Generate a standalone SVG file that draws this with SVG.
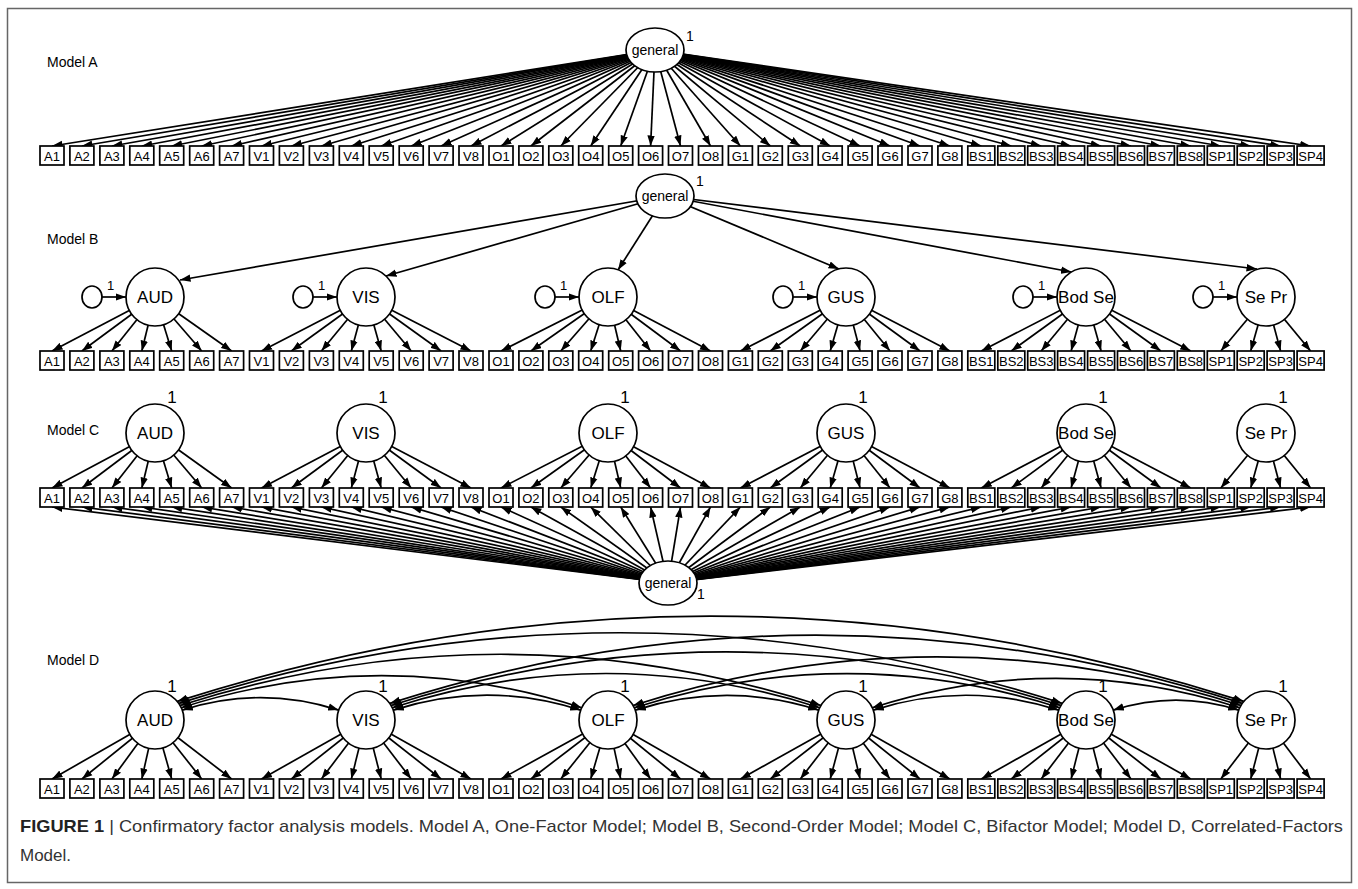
<svg xmlns="http://www.w3.org/2000/svg" width="1358" height="889" viewBox="0 0 1358 889">
<defs>
<marker id="ah" markerUnits="userSpaceOnUse" markerWidth="11" markerHeight="8" refX="10.5" refY="4" orient="auto-start-reverse" viewBox="0 0 11 8"><path d="M0 0.3L10.5 4L0 7.7z" fill="#000"/></marker>
<style>
text{font-family:"Liberation Sans",Arial,sans-serif;fill:#000}
.c path{fill:none;stroke:#000;stroke-width:1.7;marker-end:url(#ah)}
.c path.dbl{marker-start:url(#ah)}
.box rect{fill:#fff;stroke:#000;stroke-width:1.7}
.box text{font-size:13px;text-anchor:middle}
.lat circle,.lat ellipse{fill:#fff;stroke:#000;stroke-width:1.7}
.lat text{font-size:17px;text-anchor:middle}
.gen text{font-size:14px}
.res ellipse{fill:#fff;stroke:#000;stroke-width:1.7}
.lbl{font-size:14px}
.one{font-size:13px}
.cap{font-size:17px;fill:#333}
</style>
</defs>
<rect x="7.5" y="8.5" width="1344" height="874" fill="#fff" stroke="#666" stroke-width="1.5"/>

<g id="connectors" class="c">
<g id="connA">
<path d="M655 50L52 146"/><path d="M655 50L81.9 146"/><path d="M655 50L111.9 146"/><path d="M655 50L141.8 146"/><path d="M655 50L171.7 146"/><path d="M655 50L201.7 146"/><path d="M655 50L231.6 146"/>
<path d="M655 50L261.5 146"/><path d="M655 50L291.4 146"/><path d="M655 50L321.4 146"/><path d="M655 50L351.3 146"/><path d="M655 50L381.2 146"/><path d="M655 50L411.2 146"/><path d="M655 50L441.1 146"/><path d="M655 50L471 146"/>
<path d="M655 50L501 146"/><path d="M655 50L530.9 146"/><path d="M655 50L560.8 146"/><path d="M655 50L590.7 146"/><path d="M655 50L620.7 146"/><path d="M655 50L650.6 146"/><path d="M655 50L680.5 146"/><path d="M655 50L710.5 146"/>
<path d="M655 50L740.4 146"/><path d="M655 50L770.3 146"/><path d="M655 50L800.3 146"/><path d="M655 50L830.2 146"/><path d="M655 50L860.1 146"/><path d="M655 50L890 146"/><path d="M655 50L920 146"/><path d="M655 50L949.9 146"/>
<path d="M655 50L981.3 146"/><path d="M655 50L1011.3 146"/><path d="M655 50L1041.2 146"/><path d="M655 50L1071.1 146"/><path d="M655 50L1101.1 146"/><path d="M655 50L1131 146"/><path d="M655 50L1160.9 146"/><path d="M655 50L1190.8 146"/>
<path d="M655 50L1220.8 146"/><path d="M655 50L1250.7 146"/><path d="M655 50L1280.6 146"/><path d="M655 50L1310.6 146"/>
</g>
<g id="connB">
<path d="M665 196L180 280"/><path d="M665 196L386 276"/><path d="M665 196L618 270"/><path d="M665 196L839 269"/><path d="M665 196L1071.5 272"/><path d="M665 196L1257 269"/>
<path d="M102 297L126 297"/><path d="M313 297L337 297"/><path d="M555 297L579 297"/><path d="M793 297L817 297"/><path d="M1033 297L1057 297"/><path d="M1213 297L1237 297"/>
<path d="M155 297L52 351"/><path d="M155 297L81.9 351"/><path d="M155 297L111.9 351"/><path d="M155 297L141.8 351"/><path d="M155 297L171.7 351"/><path d="M155 297L201.7 351"/><path d="M155 297L231.6 351"/>
<path d="M366 297L261.5 351"/><path d="M366 297L291.4 351"/><path d="M366 297L321.4 351"/><path d="M366 297L351.3 351"/><path d="M366 297L381.2 351"/><path d="M366 297L411.2 351"/><path d="M366 297L441.1 351"/><path d="M366 297L471 351"/>
<path d="M608 297L501 351"/><path d="M608 297L530.9 351"/><path d="M608 297L560.8 351"/><path d="M608 297L590.7 351"/><path d="M608 297L620.7 351"/><path d="M608 297L650.6 351"/><path d="M608 297L680.5 351"/><path d="M608 297L710.5 351"/>
<path d="M846 297L740.4 351"/><path d="M846 297L770.3 351"/><path d="M846 297L800.3 351"/><path d="M846 297L830.2 351"/><path d="M846 297L860.1 351"/><path d="M846 297L890 351"/><path d="M846 297L920 351"/><path d="M846 297L949.9 351"/>
<path d="M1086 297L981.3 351"/><path d="M1086 297L1011.3 351"/><path d="M1086 297L1041.2 351"/><path d="M1086 297L1071.1 351"/><path d="M1086 297L1101.1 351"/><path d="M1086 297L1131 351"/><path d="M1086 297L1160.9 351"/><path d="M1086 297L1190.8 351"/>
<path d="M1266 297L1220.8 351"/><path d="M1266 297L1250.7 351"/><path d="M1266 297L1280.6 351"/><path d="M1266 297L1310.6 351"/>
</g>
<g id="connC">
<path d="M155 433L52 488"/><path d="M155 433L81.9 488"/><path d="M155 433L111.9 488"/><path d="M155 433L141.8 488"/><path d="M155 433L171.7 488"/><path d="M155 433L201.7 488"/><path d="M155 433L231.6 488"/>
<path d="M366 433L261.5 488"/><path d="M366 433L291.4 488"/><path d="M366 433L321.4 488"/><path d="M366 433L351.3 488"/><path d="M366 433L381.2 488"/><path d="M366 433L411.2 488"/><path d="M366 433L441.1 488"/><path d="M366 433L471 488"/>
<path d="M608 433L501 488"/><path d="M608 433L530.9 488"/><path d="M608 433L560.8 488"/><path d="M608 433L590.7 488"/><path d="M608 433L620.7 488"/><path d="M608 433L650.6 488"/><path d="M608 433L680.5 488"/><path d="M608 433L710.5 488"/>
<path d="M846 433L740.4 488"/><path d="M846 433L770.3 488"/><path d="M846 433L800.3 488"/><path d="M846 433L830.2 488"/><path d="M846 433L860.1 488"/><path d="M846 433L890 488"/><path d="M846 433L920 488"/><path d="M846 433L949.9 488"/>
<path d="M1086 433L981.3 488"/><path d="M1086 433L1011.3 488"/><path d="M1086 433L1041.2 488"/><path d="M1086 433L1071.1 488"/><path d="M1086 433L1101.1 488"/><path d="M1086 433L1131 488"/><path d="M1086 433L1160.9 488"/><path d="M1086 433L1190.8 488"/>
<path d="M1266 433L1220.8 488"/><path d="M1266 433L1250.7 488"/><path d="M1266 433L1280.6 488"/><path d="M1266 433L1310.6 488"/>
<path d="M668 583L52 507"/><path d="M668 583L81.9 507"/><path d="M668 583L111.9 507"/><path d="M668 583L141.8 507"/><path d="M668 583L171.7 507"/><path d="M668 583L201.7 507"/><path d="M668 583L231.6 507"/>
<path d="M668 583L261.5 507"/><path d="M668 583L291.4 507"/><path d="M668 583L321.4 507"/><path d="M668 583L351.3 507"/><path d="M668 583L381.2 507"/><path d="M668 583L411.2 507"/><path d="M668 583L441.1 507"/><path d="M668 583L471 507"/>
<path d="M668 583L501 507"/><path d="M668 583L530.9 507"/><path d="M668 583L560.8 507"/><path d="M668 583L590.7 507"/><path d="M668 583L620.7 507"/><path d="M668 583L650.6 507"/><path d="M668 583L680.5 507"/><path d="M668 583L710.5 507"/>
<path d="M668 583L740.4 507"/><path d="M668 583L770.3 507"/><path d="M668 583L800.3 507"/><path d="M668 583L830.2 507"/><path d="M668 583L860.1 507"/><path d="M668 583L890 507"/><path d="M668 583L920 507"/><path d="M668 583L949.9 507"/>
<path d="M668 583L981.3 507"/><path d="M668 583L1011.3 507"/><path d="M668 583L1041.2 507"/><path d="M668 583L1071.1 507"/><path d="M668 583L1101.1 507"/><path d="M668 583L1131 507"/><path d="M668 583L1160.9 507"/><path d="M668 583L1190.8 507"/>
<path d="M668 583L1220.8 507"/><path d="M668 583L1250.7 507"/><path d="M668 583L1280.6 507"/><path d="M668 583L1310.6 507"/>
</g>
<g id="connD">
<path class="dbl" d="M182.3 710.1Q260.5 685.2 338.7 710.1"/>
<path class="dbl" d="M393.3 710.1Q487 680.1 580.7 710.1"/>
<path class="dbl" d="M635.3 710.1Q727 680.8 818.7 710.1"/>
<path class="dbl" d="M873.3 710.1Q966 680.4 1058.7 710.1"/>
<path class="dbl" d="M1113.3 710.1Q1176 690 1238.7 710.1"/>
<path class="dbl" d="M181.3 707.7Q381.5 643.6 581.7 707.7"/>
<path class="dbl" d="M392.3 707.7Q606 639.3 819.7 707.7"/>
<path class="dbl" d="M634.3 707.7Q847 639.6 1059.7 707.7"/>
<path class="dbl" d="M872.3 707.7Q1056 648.9 1239.7 707.7"/>
<path class="dbl" d="M180.1 705.5Q500.5 603 820.9 705.5"/>
<path class="dbl" d="M391.1 705.5Q726 598.3 1060.9 705.5"/>
<path class="dbl" d="M633.1 705.5Q937 608.3 1240.9 705.5"/>
<path class="dbl" d="M178.8 703.4Q620.5 562.1 1062.2 703.4"/>
<path class="dbl" d="M389.8 703.4Q816 567 1242.2 703.4"/>
<path class="dbl" d="M177.2 701.4Q710.5 530.7 1243.8 701.4"/>
<path d="M155 720L52 779"/><path d="M155 720L81.9 779"/><path d="M155 720L111.9 779"/><path d="M155 720L141.8 779"/><path d="M155 720L171.7 779"/><path d="M155 720L201.7 779"/><path d="M155 720L231.6 779"/>
<path d="M366 720L261.5 779"/><path d="M366 720L291.4 779"/><path d="M366 720L321.4 779"/><path d="M366 720L351.3 779"/><path d="M366 720L381.2 779"/><path d="M366 720L411.2 779"/><path d="M366 720L441.1 779"/><path d="M366 720L471 779"/>
<path d="M608 720L501 779"/><path d="M608 720L530.9 779"/><path d="M608 720L560.8 779"/><path d="M608 720L590.7 779"/><path d="M608 720L620.7 779"/><path d="M608 720L650.6 779"/><path d="M608 720L680.5 779"/><path d="M608 720L710.5 779"/>
<path d="M846 720L740.4 779"/><path d="M846 720L770.3 779"/><path d="M846 720L800.3 779"/><path d="M846 720L830.2 779"/><path d="M846 720L860.1 779"/><path d="M846 720L890 779"/><path d="M846 720L920 779"/><path d="M846 720L949.9 779"/>
<path d="M1086 720L981.3 779"/><path d="M1086 720L1011.3 779"/><path d="M1086 720L1041.2 779"/><path d="M1086 720L1071.1 779"/><path d="M1086 720L1101.1 779"/><path d="M1086 720L1131 779"/><path d="M1086 720L1160.9 779"/><path d="M1086 720L1190.8 779"/>
<path d="M1266 720L1220.8 779"/><path d="M1266 720L1250.7 779"/><path d="M1266 720L1280.6 779"/><path d="M1266 720L1310.6 779"/>
</g>
</g>

<text class="lbl" x="47" y="67">Model A</text>
<text class="lbl" x="47" y="244">Model B</text>
<text class="lbl" x="47" y="435">Model C</text>
<text class="lbl" x="47" y="665">Model D</text>

<g id="mA_general" class="lat gen"><ellipse cx="655" cy="50" rx="29" ry="22"/><text x="655" y="55">general</text><text class="one" x="690" y="41">1</text></g>
<g id="rowA" transform="translate(0,146)">
<g id="mA_A1" class="box"><rect x="40" width="24" height="19"/><text x="52" y="14.5">A1</text></g>
<g id="mA_A2" class="box"><rect x="69.9" width="24" height="19"/><text x="81.9" y="14.5">A2</text></g>
<g id="mA_A3" class="box"><rect x="99.9" width="24" height="19"/><text x="111.9" y="14.5">A3</text></g>
<g id="mA_A4" class="box"><rect x="129.8" width="24" height="19"/><text x="141.8" y="14.5">A4</text></g>
<g id="mA_A5" class="box"><rect x="159.7" width="24" height="19"/><text x="171.7" y="14.5">A5</text></g>
<g id="mA_A6" class="box"><rect x="189.7" width="24" height="19"/><text x="201.7" y="14.5">A6</text></g>
<g id="mA_A7" class="box"><rect x="219.6" width="24" height="19"/><text x="231.6" y="14.5">A7</text></g>
<g id="mA_V1" class="box"><rect x="249.5" width="24" height="19"/><text x="261.5" y="14.5">V1</text></g>
<g id="mA_V2" class="box"><rect x="279.4" width="24" height="19"/><text x="291.4" y="14.5">V2</text></g>
<g id="mA_V3" class="box"><rect x="309.4" width="24" height="19"/><text x="321.4" y="14.5">V3</text></g>
<g id="mA_V4" class="box"><rect x="339.3" width="24" height="19"/><text x="351.3" y="14.5">V4</text></g>
<g id="mA_V5" class="box"><rect x="369.2" width="24" height="19"/><text x="381.2" y="14.5">V5</text></g>
<g id="mA_V6" class="box"><rect x="399.2" width="24" height="19"/><text x="411.2" y="14.5">V6</text></g>
<g id="mA_V7" class="box"><rect x="429.1" width="24" height="19"/><text x="441.1" y="14.5">V7</text></g>
<g id="mA_V8" class="box"><rect x="459" width="24" height="19"/><text x="471" y="14.5">V8</text></g>
<g id="mA_O1" class="box"><rect x="489" width="24" height="19"/><text x="501" y="14.5">O1</text></g>
<g id="mA_O2" class="box"><rect x="518.9" width="24" height="19"/><text x="530.9" y="14.5">O2</text></g>
<g id="mA_O3" class="box"><rect x="548.8" width="24" height="19"/><text x="560.8" y="14.5">O3</text></g>
<g id="mA_O4" class="box"><rect x="578.7" width="24" height="19"/><text x="590.7" y="14.5">O4</text></g>
<g id="mA_O5" class="box"><rect x="608.7" width="24" height="19"/><text x="620.7" y="14.5">O5</text></g>
<g id="mA_O6" class="box"><rect x="638.6" width="24" height="19"/><text x="650.6" y="14.5">O6</text></g>
<g id="mA_O7" class="box"><rect x="668.5" width="24" height="19"/><text x="680.5" y="14.5">O7</text></g>
<g id="mA_O8" class="box"><rect x="698.5" width="24" height="19"/><text x="710.5" y="14.5">O8</text></g>
<g id="mA_G1" class="box"><rect x="728.4" width="24" height="19"/><text x="740.4" y="14.5">G1</text></g>
<g id="mA_G2" class="box"><rect x="758.3" width="24" height="19"/><text x="770.3" y="14.5">G2</text></g>
<g id="mA_G3" class="box"><rect x="788.3" width="24" height="19"/><text x="800.3" y="14.5">G3</text></g>
<g id="mA_G4" class="box"><rect x="818.2" width="24" height="19"/><text x="830.2" y="14.5">G4</text></g>
<g id="mA_G5" class="box"><rect x="848.1" width="24" height="19"/><text x="860.1" y="14.5">G5</text></g>
<g id="mA_G6" class="box"><rect x="878" width="24" height="19"/><text x="890" y="14.5">G6</text></g>
<g id="mA_G7" class="box"><rect x="908" width="24" height="19"/><text x="920" y="14.5">G7</text></g>
<g id="mA_G8" class="box"><rect x="937.9" width="24" height="19"/><text x="949.9" y="14.5">G8</text></g>
<g id="mA_BS1" class="box"><rect x="967.8" width="27" height="19"/><text x="981.3" y="14.5">BS1</text></g>
<g id="mA_BS2" class="box"><rect x="997.8" width="27" height="19"/><text x="1011.3" y="14.5">BS2</text></g>
<g id="mA_BS3" class="box"><rect x="1027.7" width="27" height="19"/><text x="1041.2" y="14.5">BS3</text></g>
<g id="mA_BS4" class="box"><rect x="1057.6" width="27" height="19"/><text x="1071.1" y="14.5">BS4</text></g>
<g id="mA_BS5" class="box"><rect x="1087.6" width="27" height="19"/><text x="1101.1" y="14.5">BS5</text></g>
<g id="mA_BS6" class="box"><rect x="1117.5" width="27" height="19"/><text x="1131" y="14.5">BS6</text></g>
<g id="mA_BS7" class="box"><rect x="1147.4" width="27" height="19"/><text x="1160.9" y="14.5">BS7</text></g>
<g id="mA_BS8" class="box"><rect x="1177.3" width="27" height="19"/><text x="1190.8" y="14.5">BS8</text></g>
<g id="mA_SP1" class="box"><rect x="1207.3" width="27" height="19"/><text x="1220.8" y="14.5">SP1</text></g>
<g id="mA_SP2" class="box"><rect x="1237.2" width="27" height="19"/><text x="1250.7" y="14.5">SP2</text></g>
<g id="mA_SP3" class="box"><rect x="1267.1" width="27" height="19"/><text x="1280.6" y="14.5">SP3</text></g>
<g id="mA_SP4" class="box"><rect x="1297.1" width="27" height="19"/><text x="1310.6" y="14.5">SP4</text></g>
</g>

<g id="mB_general" class="lat gen"><ellipse cx="665" cy="196" rx="29" ry="22"/><text x="665" y="201">general</text><text class="one" x="700" y="186">1</text></g>
<g id="mB_AUD" class="lat"><circle cx="155" cy="297" r="29"/><text x="155" y="303">AUD</text></g>
<g id="mB_VIS" class="lat"><circle cx="366" cy="297" r="29"/><text x="366" y="303">VIS</text></g>
<g id="mB_OLF" class="lat"><circle cx="608" cy="297" r="29"/><text x="608" y="303">OLF</text></g>
<g id="mB_GUS" class="lat"><circle cx="846" cy="297" r="29"/><text x="846" y="303">GUS</text></g>
<g id="mB_BodSe" class="lat"><circle cx="1086" cy="297" r="29"/><text x="1086" y="303">Bod Se</text></g>
<g id="mB_SePr" class="lat"><circle cx="1266" cy="297" r="29"/><text x="1266" y="303">Se Pr</text></g>
<g id="mB_eAUD" class="res"><ellipse cx="92" cy="297" rx="10" ry="11"/><text class="one" x="107" y="290">1</text></g>
<g id="mB_eVIS" class="res"><ellipse cx="303" cy="297" rx="10" ry="11"/><text class="one" x="318" y="290">1</text></g>
<g id="mB_eOLF" class="res"><ellipse cx="545" cy="297" rx="10" ry="11"/><text class="one" x="560" y="290">1</text></g>
<g id="mB_eGUS" class="res"><ellipse cx="783" cy="297" rx="10" ry="11"/><text class="one" x="798" y="290">1</text></g>
<g id="mB_eBodSe" class="res"><ellipse cx="1023" cy="297" rx="10" ry="11"/><text class="one" x="1038" y="290">1</text></g>
<g id="mB_eSePr" class="res"><ellipse cx="1203" cy="297" rx="10" ry="11"/><text class="one" x="1218" y="290">1</text></g>
<g id="rowB" transform="translate(0,351)">
<g id="mB_A1" class="box"><rect x="40" width="24" height="19"/><text x="52" y="14.5">A1</text></g>
<g id="mB_A2" class="box"><rect x="69.9" width="24" height="19"/><text x="81.9" y="14.5">A2</text></g>
<g id="mB_A3" class="box"><rect x="99.9" width="24" height="19"/><text x="111.9" y="14.5">A3</text></g>
<g id="mB_A4" class="box"><rect x="129.8" width="24" height="19"/><text x="141.8" y="14.5">A4</text></g>
<g id="mB_A5" class="box"><rect x="159.7" width="24" height="19"/><text x="171.7" y="14.5">A5</text></g>
<g id="mB_A6" class="box"><rect x="189.7" width="24" height="19"/><text x="201.7" y="14.5">A6</text></g>
<g id="mB_A7" class="box"><rect x="219.6" width="24" height="19"/><text x="231.6" y="14.5">A7</text></g>
<g id="mB_V1" class="box"><rect x="249.5" width="24" height="19"/><text x="261.5" y="14.5">V1</text></g>
<g id="mB_V2" class="box"><rect x="279.4" width="24" height="19"/><text x="291.4" y="14.5">V2</text></g>
<g id="mB_V3" class="box"><rect x="309.4" width="24" height="19"/><text x="321.4" y="14.5">V3</text></g>
<g id="mB_V4" class="box"><rect x="339.3" width="24" height="19"/><text x="351.3" y="14.5">V4</text></g>
<g id="mB_V5" class="box"><rect x="369.2" width="24" height="19"/><text x="381.2" y="14.5">V5</text></g>
<g id="mB_V6" class="box"><rect x="399.2" width="24" height="19"/><text x="411.2" y="14.5">V6</text></g>
<g id="mB_V7" class="box"><rect x="429.1" width="24" height="19"/><text x="441.1" y="14.5">V7</text></g>
<g id="mB_V8" class="box"><rect x="459" width="24" height="19"/><text x="471" y="14.5">V8</text></g>
<g id="mB_O1" class="box"><rect x="489" width="24" height="19"/><text x="501" y="14.5">O1</text></g>
<g id="mB_O2" class="box"><rect x="518.9" width="24" height="19"/><text x="530.9" y="14.5">O2</text></g>
<g id="mB_O3" class="box"><rect x="548.8" width="24" height="19"/><text x="560.8" y="14.5">O3</text></g>
<g id="mB_O4" class="box"><rect x="578.7" width="24" height="19"/><text x="590.7" y="14.5">O4</text></g>
<g id="mB_O5" class="box"><rect x="608.7" width="24" height="19"/><text x="620.7" y="14.5">O5</text></g>
<g id="mB_O6" class="box"><rect x="638.6" width="24" height="19"/><text x="650.6" y="14.5">O6</text></g>
<g id="mB_O7" class="box"><rect x="668.5" width="24" height="19"/><text x="680.5" y="14.5">O7</text></g>
<g id="mB_O8" class="box"><rect x="698.5" width="24" height="19"/><text x="710.5" y="14.5">O8</text></g>
<g id="mB_G1" class="box"><rect x="728.4" width="24" height="19"/><text x="740.4" y="14.5">G1</text></g>
<g id="mB_G2" class="box"><rect x="758.3" width="24" height="19"/><text x="770.3" y="14.5">G2</text></g>
<g id="mB_G3" class="box"><rect x="788.3" width="24" height="19"/><text x="800.3" y="14.5">G3</text></g>
<g id="mB_G4" class="box"><rect x="818.2" width="24" height="19"/><text x="830.2" y="14.5">G4</text></g>
<g id="mB_G5" class="box"><rect x="848.1" width="24" height="19"/><text x="860.1" y="14.5">G5</text></g>
<g id="mB_G6" class="box"><rect x="878" width="24" height="19"/><text x="890" y="14.5">G6</text></g>
<g id="mB_G7" class="box"><rect x="908" width="24" height="19"/><text x="920" y="14.5">G7</text></g>
<g id="mB_G8" class="box"><rect x="937.9" width="24" height="19"/><text x="949.9" y="14.5">G8</text></g>
<g id="mB_BS1" class="box"><rect x="967.8" width="27" height="19"/><text x="981.3" y="14.5">BS1</text></g>
<g id="mB_BS2" class="box"><rect x="997.8" width="27" height="19"/><text x="1011.3" y="14.5">BS2</text></g>
<g id="mB_BS3" class="box"><rect x="1027.7" width="27" height="19"/><text x="1041.2" y="14.5">BS3</text></g>
<g id="mB_BS4" class="box"><rect x="1057.6" width="27" height="19"/><text x="1071.1" y="14.5">BS4</text></g>
<g id="mB_BS5" class="box"><rect x="1087.6" width="27" height="19"/><text x="1101.1" y="14.5">BS5</text></g>
<g id="mB_BS6" class="box"><rect x="1117.5" width="27" height="19"/><text x="1131" y="14.5">BS6</text></g>
<g id="mB_BS7" class="box"><rect x="1147.4" width="27" height="19"/><text x="1160.9" y="14.5">BS7</text></g>
<g id="mB_BS8" class="box"><rect x="1177.3" width="27" height="19"/><text x="1190.8" y="14.5">BS8</text></g>
<g id="mB_SP1" class="box"><rect x="1207.3" width="27" height="19"/><text x="1220.8" y="14.5">SP1</text></g>
<g id="mB_SP2" class="box"><rect x="1237.2" width="27" height="19"/><text x="1250.7" y="14.5">SP2</text></g>
<g id="mB_SP3" class="box"><rect x="1267.1" width="27" height="19"/><text x="1280.6" y="14.5">SP3</text></g>
<g id="mB_SP4" class="box"><rect x="1297.1" width="27" height="19"/><text x="1310.6" y="14.5">SP4</text></g>
</g>

<g id="mC_AUD" class="lat"><circle cx="155" cy="433" r="29"/><text x="155" y="439">AUD</text><text class="one" x="172" y="403">1</text></g>
<g id="mC_VIS" class="lat"><circle cx="366" cy="433" r="29"/><text x="366" y="439">VIS</text><text class="one" x="383" y="403">1</text></g>
<g id="mC_OLF" class="lat"><circle cx="608" cy="433" r="29"/><text x="608" y="439">OLF</text><text class="one" x="625" y="403">1</text></g>
<g id="mC_GUS" class="lat"><circle cx="846" cy="433" r="29"/><text x="846" y="439">GUS</text><text class="one" x="863" y="403">1</text></g>
<g id="mC_BodSe" class="lat"><circle cx="1086" cy="433" r="29"/><text x="1086" y="439">Bod Se</text><text class="one" x="1103" y="403">1</text></g>
<g id="mC_SePr" class="lat"><circle cx="1266" cy="433" r="29"/><text x="1266" y="439">Se Pr</text><text class="one" x="1283" y="403">1</text></g>
<g id="mC_general" class="lat gen"><ellipse cx="668" cy="583" rx="29" ry="22"/><text x="668" y="588">general</text><text class="one" x="701" y="599">1</text></g>
<g id="rowC" transform="translate(0,488)">
<g id="mC_A1" class="box"><rect x="40" width="24" height="19"/><text x="52" y="14.5">A1</text></g>
<g id="mC_A2" class="box"><rect x="69.9" width="24" height="19"/><text x="81.9" y="14.5">A2</text></g>
<g id="mC_A3" class="box"><rect x="99.9" width="24" height="19"/><text x="111.9" y="14.5">A3</text></g>
<g id="mC_A4" class="box"><rect x="129.8" width="24" height="19"/><text x="141.8" y="14.5">A4</text></g>
<g id="mC_A5" class="box"><rect x="159.7" width="24" height="19"/><text x="171.7" y="14.5">A5</text></g>
<g id="mC_A6" class="box"><rect x="189.7" width="24" height="19"/><text x="201.7" y="14.5">A6</text></g>
<g id="mC_A7" class="box"><rect x="219.6" width="24" height="19"/><text x="231.6" y="14.5">A7</text></g>
<g id="mC_V1" class="box"><rect x="249.5" width="24" height="19"/><text x="261.5" y="14.5">V1</text></g>
<g id="mC_V2" class="box"><rect x="279.4" width="24" height="19"/><text x="291.4" y="14.5">V2</text></g>
<g id="mC_V3" class="box"><rect x="309.4" width="24" height="19"/><text x="321.4" y="14.5">V3</text></g>
<g id="mC_V4" class="box"><rect x="339.3" width="24" height="19"/><text x="351.3" y="14.5">V4</text></g>
<g id="mC_V5" class="box"><rect x="369.2" width="24" height="19"/><text x="381.2" y="14.5">V5</text></g>
<g id="mC_V6" class="box"><rect x="399.2" width="24" height="19"/><text x="411.2" y="14.5">V6</text></g>
<g id="mC_V7" class="box"><rect x="429.1" width="24" height="19"/><text x="441.1" y="14.5">V7</text></g>
<g id="mC_V8" class="box"><rect x="459" width="24" height="19"/><text x="471" y="14.5">V8</text></g>
<g id="mC_O1" class="box"><rect x="489" width="24" height="19"/><text x="501" y="14.5">O1</text></g>
<g id="mC_O2" class="box"><rect x="518.9" width="24" height="19"/><text x="530.9" y="14.5">O2</text></g>
<g id="mC_O3" class="box"><rect x="548.8" width="24" height="19"/><text x="560.8" y="14.5">O3</text></g>
<g id="mC_O4" class="box"><rect x="578.7" width="24" height="19"/><text x="590.7" y="14.5">O4</text></g>
<g id="mC_O5" class="box"><rect x="608.7" width="24" height="19"/><text x="620.7" y="14.5">O5</text></g>
<g id="mC_O6" class="box"><rect x="638.6" width="24" height="19"/><text x="650.6" y="14.5">O6</text></g>
<g id="mC_O7" class="box"><rect x="668.5" width="24" height="19"/><text x="680.5" y="14.5">O7</text></g>
<g id="mC_O8" class="box"><rect x="698.5" width="24" height="19"/><text x="710.5" y="14.5">O8</text></g>
<g id="mC_G1" class="box"><rect x="728.4" width="24" height="19"/><text x="740.4" y="14.5">G1</text></g>
<g id="mC_G2" class="box"><rect x="758.3" width="24" height="19"/><text x="770.3" y="14.5">G2</text></g>
<g id="mC_G3" class="box"><rect x="788.3" width="24" height="19"/><text x="800.3" y="14.5">G3</text></g>
<g id="mC_G4" class="box"><rect x="818.2" width="24" height="19"/><text x="830.2" y="14.5">G4</text></g>
<g id="mC_G5" class="box"><rect x="848.1" width="24" height="19"/><text x="860.1" y="14.5">G5</text></g>
<g id="mC_G6" class="box"><rect x="878" width="24" height="19"/><text x="890" y="14.5">G6</text></g>
<g id="mC_G7" class="box"><rect x="908" width="24" height="19"/><text x="920" y="14.5">G7</text></g>
<g id="mC_G8" class="box"><rect x="937.9" width="24" height="19"/><text x="949.9" y="14.5">G8</text></g>
<g id="mC_BS1" class="box"><rect x="967.8" width="27" height="19"/><text x="981.3" y="14.5">BS1</text></g>
<g id="mC_BS2" class="box"><rect x="997.8" width="27" height="19"/><text x="1011.3" y="14.5">BS2</text></g>
<g id="mC_BS3" class="box"><rect x="1027.7" width="27" height="19"/><text x="1041.2" y="14.5">BS3</text></g>
<g id="mC_BS4" class="box"><rect x="1057.6" width="27" height="19"/><text x="1071.1" y="14.5">BS4</text></g>
<g id="mC_BS5" class="box"><rect x="1087.6" width="27" height="19"/><text x="1101.1" y="14.5">BS5</text></g>
<g id="mC_BS6" class="box"><rect x="1117.5" width="27" height="19"/><text x="1131" y="14.5">BS6</text></g>
<g id="mC_BS7" class="box"><rect x="1147.4" width="27" height="19"/><text x="1160.9" y="14.5">BS7</text></g>
<g id="mC_BS8" class="box"><rect x="1177.3" width="27" height="19"/><text x="1190.8" y="14.5">BS8</text></g>
<g id="mC_SP1" class="box"><rect x="1207.3" width="27" height="19"/><text x="1220.8" y="14.5">SP1</text></g>
<g id="mC_SP2" class="box"><rect x="1237.2" width="27" height="19"/><text x="1250.7" y="14.5">SP2</text></g>
<g id="mC_SP3" class="box"><rect x="1267.1" width="27" height="19"/><text x="1280.6" y="14.5">SP3</text></g>
<g id="mC_SP4" class="box"><rect x="1297.1" width="27" height="19"/><text x="1310.6" y="14.5">SP4</text></g>
</g>

<g id="mD_AUD" class="lat"><circle cx="155" cy="720" r="29"/><text x="155" y="726">AUD</text><text class="one" x="172" y="692">1</text></g>
<g id="mD_VIS" class="lat"><circle cx="366" cy="720" r="29"/><text x="366" y="726">VIS</text><text class="one" x="383" y="692">1</text></g>
<g id="mD_OLF" class="lat"><circle cx="608" cy="720" r="29"/><text x="608" y="726">OLF</text><text class="one" x="625" y="692">1</text></g>
<g id="mD_GUS" class="lat"><circle cx="846" cy="720" r="29"/><text x="846" y="726">GUS</text><text class="one" x="863" y="692">1</text></g>
<g id="mD_BodSe" class="lat"><circle cx="1086" cy="720" r="29"/><text x="1086" y="726">Bod Se</text><text class="one" x="1103" y="692">1</text></g>
<g id="mD_SePr" class="lat"><circle cx="1266" cy="720" r="29"/><text x="1266" y="726">Se Pr</text><text class="one" x="1283" y="692">1</text></g>
<g id="rowD" transform="translate(0,779)">
<g id="mD_A1" class="box"><rect x="40" width="24" height="19"/><text x="52" y="14.5">A1</text></g>
<g id="mD_A2" class="box"><rect x="69.9" width="24" height="19"/><text x="81.9" y="14.5">A2</text></g>
<g id="mD_A3" class="box"><rect x="99.9" width="24" height="19"/><text x="111.9" y="14.5">A3</text></g>
<g id="mD_A4" class="box"><rect x="129.8" width="24" height="19"/><text x="141.8" y="14.5">A4</text></g>
<g id="mD_A5" class="box"><rect x="159.7" width="24" height="19"/><text x="171.7" y="14.5">A5</text></g>
<g id="mD_A6" class="box"><rect x="189.7" width="24" height="19"/><text x="201.7" y="14.5">A6</text></g>
<g id="mD_A7" class="box"><rect x="219.6" width="24" height="19"/><text x="231.6" y="14.5">A7</text></g>
<g id="mD_V1" class="box"><rect x="249.5" width="24" height="19"/><text x="261.5" y="14.5">V1</text></g>
<g id="mD_V2" class="box"><rect x="279.4" width="24" height="19"/><text x="291.4" y="14.5">V2</text></g>
<g id="mD_V3" class="box"><rect x="309.4" width="24" height="19"/><text x="321.4" y="14.5">V3</text></g>
<g id="mD_V4" class="box"><rect x="339.3" width="24" height="19"/><text x="351.3" y="14.5">V4</text></g>
<g id="mD_V5" class="box"><rect x="369.2" width="24" height="19"/><text x="381.2" y="14.5">V5</text></g>
<g id="mD_V6" class="box"><rect x="399.2" width="24" height="19"/><text x="411.2" y="14.5">V6</text></g>
<g id="mD_V7" class="box"><rect x="429.1" width="24" height="19"/><text x="441.1" y="14.5">V7</text></g>
<g id="mD_V8" class="box"><rect x="459" width="24" height="19"/><text x="471" y="14.5">V8</text></g>
<g id="mD_O1" class="box"><rect x="489" width="24" height="19"/><text x="501" y="14.5">O1</text></g>
<g id="mD_O2" class="box"><rect x="518.9" width="24" height="19"/><text x="530.9" y="14.5">O2</text></g>
<g id="mD_O3" class="box"><rect x="548.8" width="24" height="19"/><text x="560.8" y="14.5">O3</text></g>
<g id="mD_O4" class="box"><rect x="578.7" width="24" height="19"/><text x="590.7" y="14.5">O4</text></g>
<g id="mD_O5" class="box"><rect x="608.7" width="24" height="19"/><text x="620.7" y="14.5">O5</text></g>
<g id="mD_O6" class="box"><rect x="638.6" width="24" height="19"/><text x="650.6" y="14.5">O6</text></g>
<g id="mD_O7" class="box"><rect x="668.5" width="24" height="19"/><text x="680.5" y="14.5">O7</text></g>
<g id="mD_O8" class="box"><rect x="698.5" width="24" height="19"/><text x="710.5" y="14.5">O8</text></g>
<g id="mD_G1" class="box"><rect x="728.4" width="24" height="19"/><text x="740.4" y="14.5">G1</text></g>
<g id="mD_G2" class="box"><rect x="758.3" width="24" height="19"/><text x="770.3" y="14.5">G2</text></g>
<g id="mD_G3" class="box"><rect x="788.3" width="24" height="19"/><text x="800.3" y="14.5">G3</text></g>
<g id="mD_G4" class="box"><rect x="818.2" width="24" height="19"/><text x="830.2" y="14.5">G4</text></g>
<g id="mD_G5" class="box"><rect x="848.1" width="24" height="19"/><text x="860.1" y="14.5">G5</text></g>
<g id="mD_G6" class="box"><rect x="878" width="24" height="19"/><text x="890" y="14.5">G6</text></g>
<g id="mD_G7" class="box"><rect x="908" width="24" height="19"/><text x="920" y="14.5">G7</text></g>
<g id="mD_G8" class="box"><rect x="937.9" width="24" height="19"/><text x="949.9" y="14.5">G8</text></g>
<g id="mD_BS1" class="box"><rect x="967.8" width="27" height="19"/><text x="981.3" y="14.5">BS1</text></g>
<g id="mD_BS2" class="box"><rect x="997.8" width="27" height="19"/><text x="1011.3" y="14.5">BS2</text></g>
<g id="mD_BS3" class="box"><rect x="1027.7" width="27" height="19"/><text x="1041.2" y="14.5">BS3</text></g>
<g id="mD_BS4" class="box"><rect x="1057.6" width="27" height="19"/><text x="1071.1" y="14.5">BS4</text></g>
<g id="mD_BS5" class="box"><rect x="1087.6" width="27" height="19"/><text x="1101.1" y="14.5">BS5</text></g>
<g id="mD_BS6" class="box"><rect x="1117.5" width="27" height="19"/><text x="1131" y="14.5">BS6</text></g>
<g id="mD_BS7" class="box"><rect x="1147.4" width="27" height="19"/><text x="1160.9" y="14.5">BS7</text></g>
<g id="mD_BS8" class="box"><rect x="1177.3" width="27" height="19"/><text x="1190.8" y="14.5">BS8</text></g>
<g id="mD_SP1" class="box"><rect x="1207.3" width="27" height="19"/><text x="1220.8" y="14.5">SP1</text></g>
<g id="mD_SP2" class="box"><rect x="1237.2" width="27" height="19"/><text x="1250.7" y="14.5">SP2</text></g>
<g id="mD_SP3" class="box"><rect x="1267.1" width="27" height="19"/><text x="1280.6" y="14.5">SP3</text></g>
<g id="mD_SP4" class="box"><rect x="1297.1" width="27" height="19"/><text x="1310.6" y="14.5">SP4</text></g>
</g>

<g id="caption">
<text class="cap" x="20" y="832" textLength="1323" lengthAdjust="spacingAndGlyphs"><tspan font-weight="bold" fill="#222">FIGURE 1</tspan> | Confirmatory factor analysis models. Model A, One-Factor Model; Model B, Second-Order Model; Model C, Bifactor Model; Model D, Correlated-Factors</text>
<text class="cap" x="20" y="861">Model.</text>
</g>
</svg>
